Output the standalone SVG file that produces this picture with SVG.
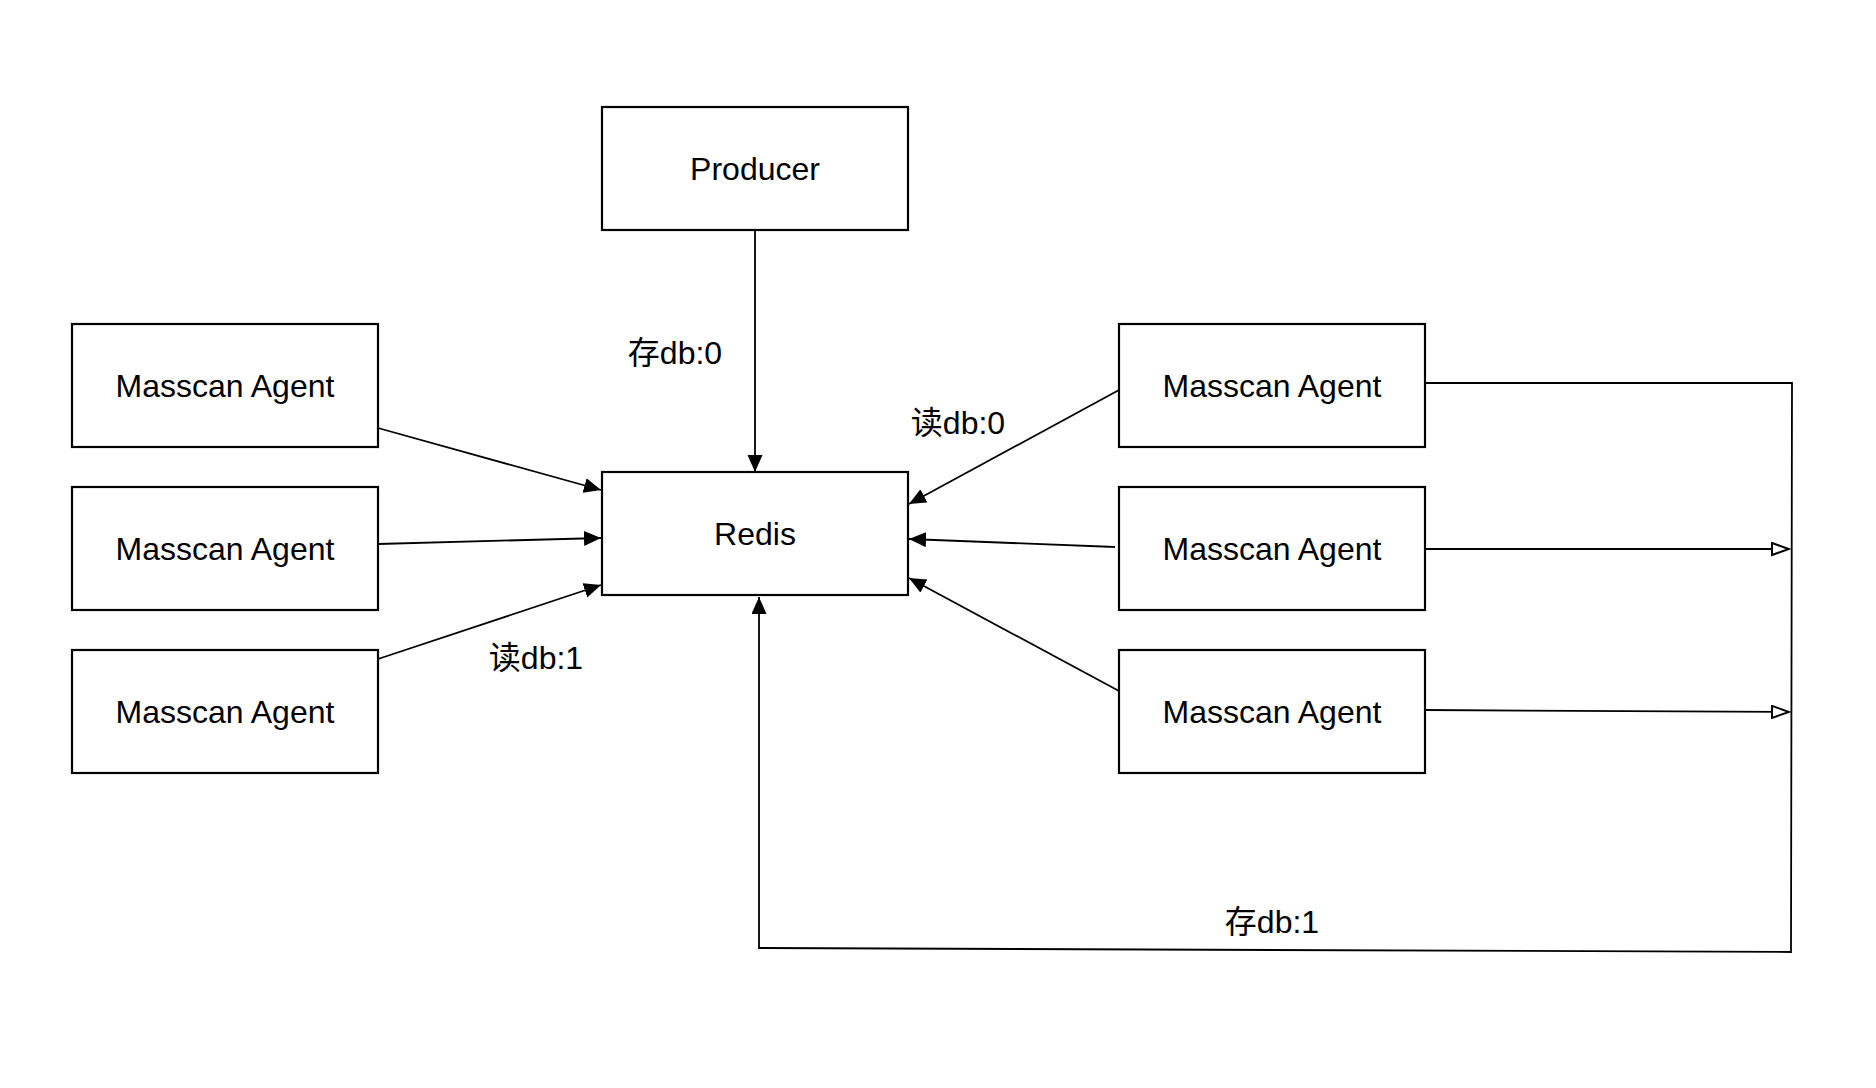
<svg xmlns="http://www.w3.org/2000/svg" width="1876" height="1088" viewBox="0 0 1876 1088">
<style>
.box{fill:#fff;stroke:#000;stroke-width:2.2}
.lbl{font-family:"Liberation Sans",Arial,sans-serif;font-size:32px;fill:#000;text-anchor:middle}
.edge{font-family:"Liberation Sans","Noto Sans CJK SC",sans-serif;font-size:32px;fill:#000;text-anchor:middle}
.ln{fill:none;stroke:#000;stroke-width:1.8}
</style>
<defs>
<marker id="blk" markerUnits="userSpaceOnUse" markerWidth="18" markerHeight="16" refX="17" refY="7.5" orient="auto">
<path d="M0,0 L17,7.5 L0,15 Z" fill="#000"/>
</marker>
<marker id="opn" markerUnits="userSpaceOnUse" markerWidth="20" markerHeight="16" refX="18" refY="7" orient="auto">
<path d="M1,1 L18,7 L1,13 Z" fill="#fff" stroke="#000" stroke-width="2"/>
</marker>
</defs>
<rect width="1876" height="1088" fill="#fff"/>
<g id="connectors">
<line class="ln" x1="755" y1="230" x2="755" y2="472" marker-end="url(#blk)"/>
<line class="ln" x1="378" y1="428" x2="601" y2="490" marker-end="url(#blk)"/>
<line class="ln" x1="378" y1="544" x2="601" y2="538" marker-end="url(#blk)"/>
<line class="ln" x1="378" y1="659" x2="601" y2="585" marker-end="url(#blk)"/>
<line class="ln" x1="1119" y1="390" x2="909" y2="504" marker-end="url(#blk)"/>
<line class="ln" x1="1115" y1="547" x2="909" y2="539" marker-end="url(#blk)"/>
<line class="ln" x1="1119" y1="691" x2="909" y2="578" marker-end="url(#blk)"/>
<polyline class="ln" points="1425,383 1792,383 1791,952 759,948 759,597" marker-end="url(#blk)"/>
<line class="ln" x1="1425" y1="549" x2="1789" y2="549" marker-end="url(#opn)"/>
<line class="ln" x1="1425" y1="710" x2="1789" y2="712" marker-end="url(#opn)"/>
<text class="edge" x="675" y="364">存db:0</text>
<text class="edge" x="958" y="434">读db:0</text>
<text class="edge" x="536" y="669">读db:1</text>
<text class="edge" x="1272" y="933">存db:1</text>
</g>
<g id="producer"><rect class="box" x="602" y="107" width="306" height="123"/><text class="lbl" x="755" y="180">Producer</text></g>
<g id="redis"><rect class="box" x="602" y="472" width="306" height="123"/><text class="lbl" x="755" y="545">Redis</text></g>
<g id="agent-l1"><rect class="box" x="72" y="324" width="306" height="123"/><text class="lbl" x="225" y="397">Masscan Agent</text></g>
<g id="agent-l2"><rect class="box" x="72" y="487" width="306" height="123"/><text class="lbl" x="225" y="560">Masscan Agent</text></g>
<g id="agent-l3"><rect class="box" x="72" y="650" width="306" height="123"/><text class="lbl" x="225" y="723">Masscan Agent</text></g>
<g id="agent-r1"><rect class="box" x="1119" y="324" width="306" height="123"/><text class="lbl" x="1272" y="397">Masscan Agent</text></g>
<g id="agent-r2"><rect class="box" x="1119" y="487" width="306" height="123"/><text class="lbl" x="1272" y="560">Masscan Agent</text></g>
<g id="agent-r3"><rect class="box" x="1119" y="650" width="306" height="123"/><text class="lbl" x="1272" y="723">Masscan Agent</text></g>
</svg>
